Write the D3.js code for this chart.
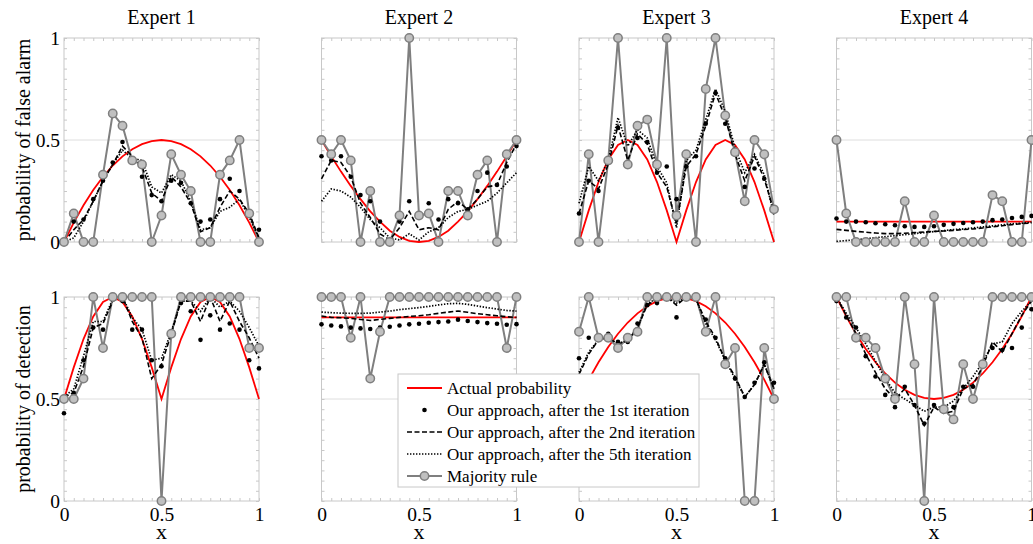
<!DOCTYPE html>
<html><head><meta charset="utf-8">
<script src="https://cdn.jsdelivr.net/npm/d3@7"></script>
<style>
body{margin:0;background:#fff}
svg{display:block}
text{font-family:"Liberation Serif","Times New Roman",Times,"DejaVu Serif",serif;fill:#000}
</style>
</head><body>
<svg id="chart" width="1033" height="544"></svg>
<script>
// ---------- DATA ----------
const xValues = [0,0.05,0.1,0.15,0.2,0.25,0.3,0.35,0.4,0.45,0.5,0.55,0.6,0.65,0.7,0.75,0.8,0.85,0.9,0.95,1];
const expertNames = ["Expert 1","Expert 2","Expert 3","Expert 4"];
const rowTitles = ["probability of false alarm","probability of detection"];
const axisTickValues = [0,0.5,1];
const axisTickLabels = ["0","0.5","1"];
const minorTickValues = [0,0.05,0.1,0.15,0.2,0.25,0.3,0.35,0.4,0.45,0.5,0.55,0.6,0.65,0.7,0.75,0.8,0.85,0.9,0.95,1];
const legendLabels = ["Actual probability","Our approach, after the 1st iteration","Our approach, after the 2nd iteration","Our approach, after the 5th iteration","Majority rule"];

// Expert 1 - false alarm
const e1FaActual = [0,.095,.18,.255,.32,.375,.42,.455,.48,.495,.5,.495,.48,.455,.42,.375,.32,.255,.18,.095,0];
const e1FaIter1  = [.01,.10,.11,.21,.30,.39,.49,.41,.32,.23,.20,.30,.29,.19,.10,.11,.21,.31,.25,.13,.06];
const e1FaIter2  = [0,.06,.11,.20,.30,.38,.47,.42,.37,.24,.20,.32,.27,.19,.05,.07,.17,.25,.21,.14,.02];
const e1FaIter5  = [0,.02,.10,.20,.30,.38,.45,.41,.40,.27,.24,.33,.30,.20,.06,.07,.15,.17,.21,.12,.02];
const e1FaMajority = [0,.14,0,0,.33,.63,.57,.40,.38,0,.13,.43,.33,.25,0,0,.33,.40,.50,.14,0];
// Expert 2 - false alarm
const e2FaActual = [.5,.42,.345,.275,.21,.15,.10,.055,.025,.006,0,.006,.025,.055,.10,.15,.21,.275,.345,.42,.5];
const e2FaIter1  = [.42,.40,.42,.32,.23,.20,.10,.01,.10,.20,.12,.19,.11,.21,.19,.16,.25,.34,.28,.37,.47];
const e2FaIter2  = [.31,.40,.39,.32,.19,.12,.04,.01,.07,.15,.06,.07,.06,.16,.20,.16,.21,.27,.28,.39,.48];
const e2FaIter5  = [.20,.26,.25,.22,.17,.11,.07,.02,.01,.04,.01,.05,.07,.12,.15,.16,.18,.20,.24,.29,.34];
const e2FaMajority = [.5,.43,.5,.40,0,.25,0,0,.13,1,.13,.14,0,.25,.25,.13,.33,.40,0,.43,.5];
// Expert 3 - false alarm
const e3FaActual = [0,.155,.294,.405,.476,.5,.476,.405,.294,.155,0,.155,.294,.405,.476,.5,.476,.405,.294,.155,0];
const e3FaIter1  = [.14,.30,.25,.40,.56,.39,.51,.49,.34,.37,.21,.37,.42,.58,.73,.58,.43,.27,.36,.31,.16];
const e3FaIter2  = [.14,.30,.26,.38,.57,.40,.53,.48,.34,.27,.09,.37,.43,.57,.73,.61,.43,.30,.42,.31,.15];
const e3FaIter5  = [.19,.37,.30,.40,.61,.47,.55,.51,.37,.29,.07,.40,.45,.60,.75,.64,.46,.34,.43,.33,.13];
const e3FaMajority = [0,.43,0,.40,1,.38,.57,.60,.38,1,.13,.43,0,.75,1,.62,.44,.20,.50,.43,.16];
// Expert 4 - false alarm
const e4FaActual = [.1,.1,.1,.1,.1,.1,.1,.1,.1,.1,.1,.1,.1,.1,.1,.1,.1,.1,.1,.1,.1];
const e4FaIter1  = [.115,.10,.10,.097,.092,.087,.082,.077,.074,.074,.077,.084,.089,.093,.097,.10,.107,.11,.118,.123,.128];
const e4FaIter2  = [.062,.057,.052,.048,.044,.041,.041,.043,.046,.049,.052,.054,.057,.061,.064,.069,.074,.080,.085,.090,.093];
const e4FaIter5  = [.003,.007,.011,.016,.021,.026,.031,.036,.041,.046,.051,.056,.061,.064,.069,.074,.079,.084,.089,.092,.097];
const e4FaMajority = [.5,.14,0,0,0,0,0,.20,0,0,.13,0,0,0,0,0,.23,.20,0,0,.5];
// Expert 1 - detection
const e1DetActual = [.5,.655,.794,.905,.976,1,.976,.905,.794,.655,.5,.655,.794,.905,.976,1,.976,.905,.794,.655,.5];
const e1DetIter1  = [.43,.53,.69,.85,.84,.99,.98,.84,.84,.69,.66,.82,.97,.93,.79,.91,.84,.87,.84,.69,.65];
const e1DetIter2  = [.51,.53,.66,.85,.87,.98,1,.88,.80,.60,.67,.82,.98,.98,.88,1,.88,.98,.88,.80,.70];
const e1DetIter5  = [.51,.55,.71,.88,.88,.99,1,.90,.84,.69,.70,.83,.98,.98,.93,1,.95,.98,.93,.85,.76];
const e1DetMajority = [.5,.5,.6,1,.75,1,1,1,1,1,0,.82,1,1,1,1,1,1,1,.75,.75];
// Expert 2 - detection
const e2DetActual = [.9,.9,.9,.9,.9,.9,.9,.9,.9,.9,.9,.9,.9,.9,.9,.9,.9,.9,.9,.9,.9];
const e2DetIter1  = [.866,.86,.856,.85,.846,.843,.85,.854,.86,.866,.869,.874,.877,.88,.889,.882,.877,.872,.869,.864,.867];
const e2DetIter2  = [.907,.90,.898,.895,.89,.885,.89,.895,.90,.905,.908,.913,.92,.926,.931,.925,.918,.913,.908,.903,.90];
const e2DetIter5  = [.926,.923,.921,.92,.92,.921,.926,.931,.938,.943,.948,.954,.961,.967,.969,.964,.956,.948,.941,.934,.931];
const e2DetMajority = [1,1,1,.80,1,.60,.83,1,1,1,1,1,1,1,1,1,1,1,1,.75,1];
// Expert 3 - detection
const e3DetActual = [.5,.595,.68,.755,.82,.875,.92,.955,.98,.995,1,.995,.98,.955,.92,.875,.82,.755,.68,.595,.5];
const e3DetIter1  = [.70,.80,.79,.82,.78,.78,.87,.96,.97,1,.90,1,.99,.89,.80,.70,.60,.51,.58,.68,.58];
const e3DetIter2  = [.62,.72,.79,.80,.77,.785,.85,.96,.99,1,.96,1,.99,.88,.80,.69,.61,.51,.57,.67,.55];
const e3DetIter5  = [.63,.73,.79,.80,.77,.79,.85,.97,.99,1,.97,1,.99,.87,.79,.69,.60,.51,.57,.67,.55];
const e3DetMajority = [.83,1,.80,.80,.75,.80,.83,1,1,1,1,1,1,.83,1,.67,.75,0,0,.75,.5];
// Expert 4 - detection
const e4DetActual = [1,.905,.82,.745,.68,.625,.58,.545,.52,.505,.5,.505,.52,.545,.58,.625,.68,.745,.82,.905,1];
const e4DetIter1  = [.98,.90,.85,.71,.61,.52,.46,.56,.47,.38,.47,.45,.46,.56,.56,.66,.75,.74,.75,.85,.94];
const e4DetIter2  = [1,.91,.82,.72,.63,.55,.50,.55,.47,.37,.46,.43,.44,.55,.57,.66,.78,.73,.82,.91,.98];
const e4DetIter5  = [1,.92,.85,.77,.685,.60,.53,.50,.47,.44,.46,.46,.49,.55,.61,.68,.77,.78,.87,.93,.98];
const e4DetMajority = [1,1,.80,.80,.75,.60,.50,1,.67,0,1,.45,.40,.67,.50,.67,1,1,1,1,1];

// ---------- LAYOUT ----------
const panelW = 195, panelH = 204;
const colX = [64, 321.5, 579, 836.5];
const rowY = [38, 297];
const FONT = '"Liberation Serif","Times New Roman",Times,"DejaVu Serif",serif';

const panels = [
  {row:0,col:0,a:e1FaActual,i1:e1FaIter1,i2:e1FaIter2,i5:e1FaIter5,m:e1FaMajority},
  {row:0,col:1,a:e2FaActual,i1:e2FaIter1,i2:e2FaIter2,i5:e2FaIter5,m:e2FaMajority},
  {row:0,col:2,a:e3FaActual,i1:e3FaIter1,i2:e3FaIter2,i5:e3FaIter5,m:e3FaMajority},
  {row:0,col:3,a:e4FaActual,i1:e4FaIter1,i2:e4FaIter2,i5:e4FaIter5,m:e4FaMajority},
  {row:1,col:0,a:e1DetActual,i1:e1DetIter1,i2:e1DetIter2,i5:e1DetIter5,m:e1DetMajority},
  {row:1,col:1,a:e2DetActual,i1:e2DetIter1,i2:e2DetIter2,i5:e2DetIter5,m:e2DetMajority},
  {row:1,col:2,a:e3DetActual,i1:e3DetIter1,i2:e3DetIter2,i5:e3DetIter5,m:e3DetMajority},
  {row:1,col:3,a:e4DetActual,i1:e4DetIter1,i2:e4DetIter2,i5:e4DetIter5,m:e4DetMajority}
];

const RED = "#ff0000", GRAY = "#7f7f7f", CFILL = "#c0c0c0", FRAME = "#c8c8c8";
const svg = d3.select("#chart");
const x = d3.scaleLinear().domain([0,1]).range([0,panelW]);
const y = d3.scaleLinear().domain([0,1]).range([panelH,0]);
const pts = arr => arr.map((v,i)=>[xValues[i],v]);
const line = d3.line().x(d=>x(d[0])).y(d=>y(d[1]));

panels.forEach(p=>{
  const g = svg.append("g").attr("transform",`translate(${colX[p.col]},${rowY[p.row]})`);
  g.append("line").attr("x1",0).attr("x2",panelW).attr("y1",y(0.5)).attr("y2",y(0.5))
    .attr("stroke","#dedede").attr("stroke-width",1);
  const tickAxes = [
    [d3.axisTop(x), `translate(0,0)`],
    [d3.axisBottom(x), `translate(0,${panelH})`],
    [d3.axisLeft(y), `translate(0,0)`],
    [d3.axisRight(y), `translate(${panelW},0)`]
  ];
  tickAxes.forEach(([ax,tr])=>{
    const a = g.append("g").attr("transform",tr)
      .call(ax.tickValues(minorTickValues).tickSize(-3).tickFormat(""));
    a.select(".domain").remove();
    a.selectAll("line").attr("stroke","#c8c8c8");
  });
  g.append("rect").attr("x",0).attr("y",0).attr("width",panelW).attr("height",panelH)
    .attr("fill","none").attr("stroke",FRAME).attr("stroke-width",1);

  g.append("path").datum(pts(p.a)).attr("d",line).attr("fill","none")
    .attr("stroke",RED).attr("stroke-width",1.8);
  g.append("path").datum(pts(p.m)).attr("d",line).attr("fill","none")
    .attr("stroke",GRAY).attr("stroke-width",2);
  g.append("path").datum(pts(p.i2)).attr("d",line).attr("fill","none")
    .attr("stroke","#000").attr("stroke-width",1.6).attr("stroke-dasharray","5,2.5");
  g.append("path").datum(pts(p.i5)).attr("d",line).attr("fill","none")
    .attr("stroke","#000").attr("stroke-width",1.7).attr("stroke-dasharray","1.4,1.6");
  g.selectAll("circle.dot").data(pts(p.i1)).join("circle").attr("class","dot")
    .attr("cx",d=>x(d[0])).attr("cy",d=>y(d[1])).attr("r",2.3).attr("fill","#000");
  g.selectAll("circle.maj").data(pts(p.m)).join("circle").attr("class","maj")
    .attr("cx",d=>x(d[0])).attr("cy",d=>y(d[1])).attr("r",4.2)
    .attr("fill",CFILL).attr("stroke",GRAY).attr("stroke-width",1.5);

  if(p.row===0){
    g.append("text").attr("x",panelW/2).attr("y",24-rowY[0]).attr("text-anchor","middle")
      .attr("font-size",20).text(expertNames[p.col]);
  }
  if(p.col===0){
    const ay = g.append("g").call(d3.axisLeft(y).tickValues(axisTickValues).tickSize(0).tickPadding(4)
      .tickFormat((d,i)=>axisTickLabels[i]));
    ay.select(".domain").remove();
    ay.selectAll("text").attr("font-size",19.5).attr("font-family",FONT);
    g.append("text").attr("transform",`translate(${30-colX[0]},${panelH/2}) rotate(-90)`)
      .attr("text-anchor","middle").attr("font-size",20).text(rowTitles[p.row]);
  }
  if(p.row===1){
    const axx = g.append("g").attr("transform",`translate(0,${panelH})`)
      .call(d3.axisBottom(x).tickValues(axisTickValues).tickSize(0).tickPadding(6.5)
      .tickFormat((d,i)=>axisTickLabels[i]));
    axx.select(".domain").remove();
    axx.selectAll("text").attr("font-size",19.5).attr("font-family",FONT);
    g.append("text").attr("x",panelW/2).attr("y",539-rowY[1]).attr("text-anchor","middle")
      .attr("font-size",22).text("x");
  }
});

// ---------- LEGEND ----------
const lg = svg.append("g").attr("transform","translate(398,374)");
lg.append("rect").attr("x",0).attr("y",0).attr("width",301).attr("height",113)
  .attr("fill","#fff").attr("stroke","#c8c8c8");
const rowH = 22, r0 = 14, sx1 = 9, sx2 = 44, tx = 49;
legendLabels.forEach((lab,i)=>{
  const cy = r0 + i*rowH;
  if(i===0) lg.append("line").attr("x1",sx1).attr("x2",sx2).attr("y1",cy).attr("y2",cy).attr("stroke",RED).attr("stroke-width",1.8);
  if(i===1) lg.append("circle").attr("cx",(sx1+sx2)/2).attr("cy",cy).attr("r",2.3).attr("fill","#000");
  if(i===2) lg.append("line").attr("x1",sx1).attr("x2",sx2).attr("y1",cy).attr("y2",cy).attr("stroke","#000").attr("stroke-width",1.6).attr("stroke-dasharray","5,2.5");
  if(i===3) lg.append("line").attr("x1",sx1).attr("x2",sx2).attr("y1",cy).attr("y2",cy).attr("stroke","#000").attr("stroke-width",1.7).attr("stroke-dasharray","1.4,1.6");
  if(i===4){
    lg.append("line").attr("x1",sx1).attr("x2",sx2).attr("y1",cy).attr("y2",cy).attr("stroke",GRAY).attr("stroke-width",2);
    lg.append("circle").attr("cx",(sx1+sx2)/2).attr("cy",cy).attr("r",4.2).attr("fill",CFILL).attr("stroke",GRAY).attr("stroke-width",1.5);
  }
  lg.append("text").attr("x",tx).attr("y",cy).attr("dy","0.33em").attr("font-size",17).text(lab);
});
</script>
</body></html>
